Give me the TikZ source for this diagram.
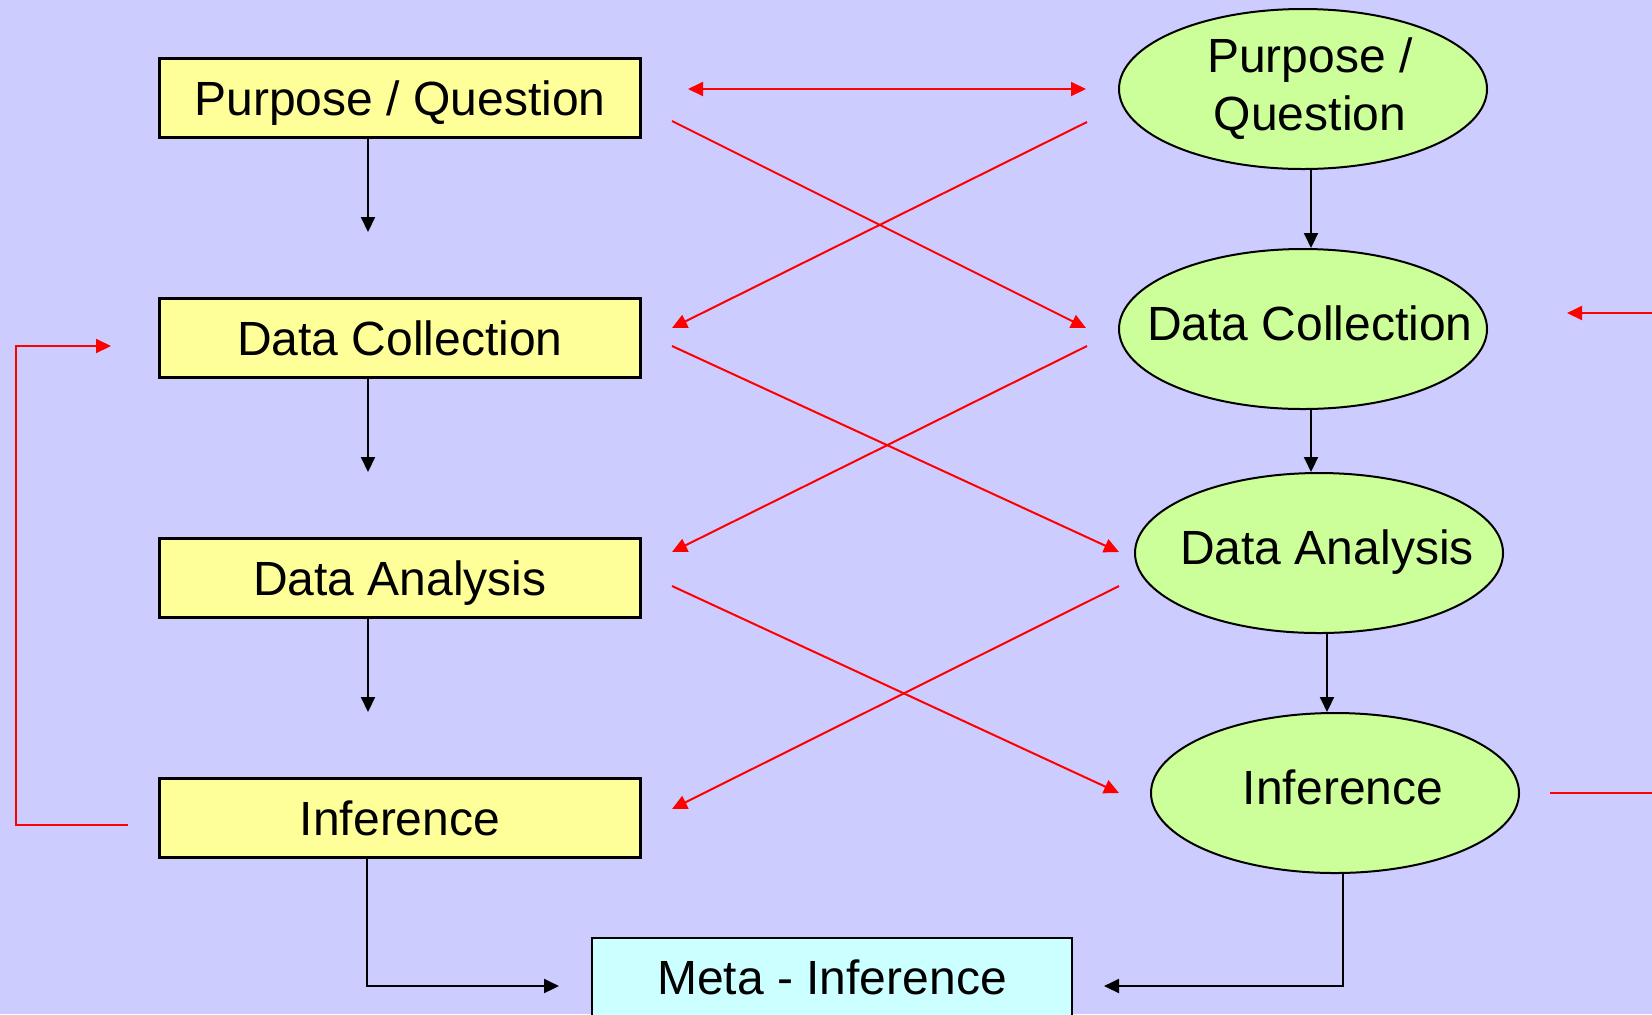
\documentclass[tikz,border=0pt]{standalone}
\usepackage{fontspec}
\setmainfont{Liberation Sans}
\usetikzlibrary{arrows.meta,shapes.geometric,calc}
\definecolor{bgblue}{HTML}{CCCCFF}
\definecolor{boxyellow}{HTML}{FFFF99}
\definecolor{ellgreen}{HTML}{CCFF99}
\definecolor{metacyan}{HTML}{CCFFFF}
\definecolor{linkred}{HTML}{FF0000}
\begin{document}
\begin{tikzpicture}[x=0.5pt,y=-0.5pt,
  font=\fontsize{24}{29}\selectfont,
  stagebox/.style={draw=black,line width=1.3pt,fill=boxyellow,
    minimum width=240.5pt,minimum height=39.5pt,inner sep=0pt,
    text height=17.2pt,text depth=0pt},
  stageell/.style={ellipse,draw=black,line width=1pt,fill=ellgreen,
    minimum width=184pt,minimum height=80pt,inner xsep=-40pt,inner ysep=-8pt,
    align=center},
  onelinetext/.style={text height=11pt,text depth=0pt},
  metabox/.style={draw=black,line width=1.3pt,fill=metacyan,
    minimum width=240pt,minimum height=39pt,inner sep=0pt},
  flow/.style={draw=black,line width=1pt,-{Triangle[length=7.5pt,width=7pt]}},
  link/.style={draw=linkred,line width=1pt,-{Triangle[length=7.5pt,width=7pt]}},
  linkboth/.style={draw=linkred,line width=1pt,
    {Triangle[length=7.5pt,width=7pt]}-{Triangle[length=7.5pt,width=7pt]}},
  linkplain/.style={draw=linkred,line width=1pt}]

% canvas
\fill[bgblue] (0,0) rectangle (1652,1014);
\useasboundingbox (0,0) rectangle (1652,1014);
\clip (0,0) rectangle (1652,1014);

% left column: sequential stages
\node[stagebox] (pqbox) at (400,98)  {Purpose / Question};
\node[stagebox] (dcbox) at (400,338) {Data Collection};
\node[stagebox] (dabox) at (400,578) {Data Analysis};
\node[stagebox] (infbox) at (400,818) {Inference};

% right column: parallel stages
\node[stageell] (pqell) at (1303,89)  {\hspace*{7pt}Purpose /\\\hspace*{7pt}Question};
\node[stageell,onelinetext] (dcell) at (1303,329) {\hspace*{7pt}Data Collection};
\node[stageell,onelinetext] (daell) at (1319,553) {\hspace*{8pt}Data Analysis};
\node[stageell,onelinetext] (infell) at (1335,793) {\hspace*{8pt}Inference};

% combined result
\node[metabox] (meta) at (832,977) {Meta - Inference};

% free ends of connectors
\coordinate (l1) at (368,232);
\coordinate (l2) at (368,472);
\coordinate (l3) at (368,712);
\coordinate (lbend) at (367,986);
\coordinate (lmeta) at (559,986);
\coordinate (rbend) at (1343,986);
\coordinate (rmeta) at (1104,986);

% left column flow
\draw[flow] (l1 |- pqbox.south) -- (l1);
\draw[flow] (l2 |- dcbox.south) -- (l2);
\draw[flow] (l3 |- dabox.south) -- (l3);
\draw[flow] (lbend |- infbox.south) -- (lbend) -- (lmeta);

% right column flow
\draw[flow] ([xshift=4pt]pqell.south) -- ([xshift=4pt]dcell.north);
\draw[flow] ([xshift=4pt]dcell.south) -- ([xshift=-4pt]daell.north);
\draw[flow] ([xshift=4pt]daell.south) -- ([xshift=-4pt]infell.north);
\draw[flow] ([xshift=4pt]infell.south) -- (rbend) -- (rmeta);

% cross links between the columns
\coordinate (pqL) at (688,89);
\coordinate (pqR) at (1086,89);
\coordinate (pqLo) at (672,121);
\coordinate (pqRo) at (1087,122);
\coordinate (dcLi) at (672,328);
\coordinate (dcRi) at (1086,328);
\coordinate (dcLo) at (672,346);
\coordinate (dcRo) at (1087,346);
\coordinate (daLi) at (672,552);
\coordinate (daRi) at (1119,552);
\coordinate (daLo) at (672,586);
\coordinate (daRo) at (1119,586);
\coordinate (infLi) at (672,809);
\coordinate (infRi) at (1119,793);

\draw[linkboth] (pqL) -- (pqR);
\draw[link] (pqLo) -- (dcRi);
\draw[link] (pqRo) -- (dcLi);
\draw[link] (dcLo) -- (daRi);
\draw[link] (dcRo) -- (daLi);
\draw[link] (daLo) -- (infRi);
\draw[link] (daRo) -- (infLi);

% feedback loop on the left
\coordinate (fbstart) at (128,825);
\coordinate (fbdown) at (15.6,825);
\coordinate (fbup) at (15.6,346);
\coordinate (fbend) at (111,346);
\draw[link] (fbstart) -- (fbdown) -- (fbup) -- (fbend);

% links leaving on the right
\coordinate (rin) at (1652,313);
\coordinate (rinend) at (1567,313);
\coordinate (rout) at (1550,793);
\coordinate (routend) at (1652,793);
\draw[link] (rin) -- (rinend);
\draw[linkplain] (rout) -- (routend);
\end{tikzpicture}
\end{document}
